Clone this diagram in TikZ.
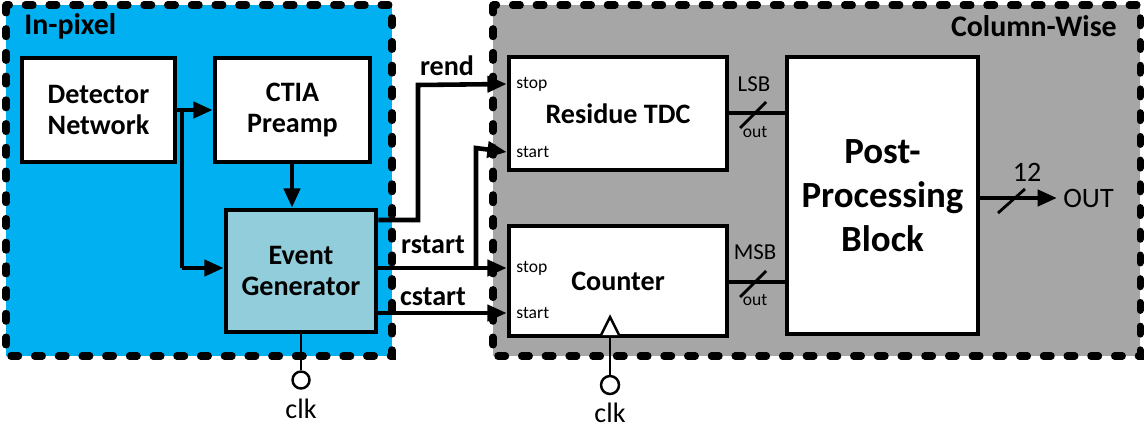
\documentclass[tikz,border=0pt]{standalone}
\usepackage{fontspec}
\setmainfont{Carlito}
\usepackage{xcolor}
\usetikzlibrary{positioning,arrows.meta,calc}
\definecolor{pixblue}{HTML}{00B0F0}
\definecolor{colgray}{HTML}{A6A6A6}
\definecolor{evblue}{HTML}{92CDDC}
\newcommand{\bigfont}{\fontsize{16}{18}\selectfont\bfseries}
\begin{document}
\begin{tikzpicture}[
  x=0.02cm,y=-0.02cm,
  region/.style={line width=4pt,dash pattern=on 4.5pt off 9pt,line cap=round},
  blk/.style={draw,fill=white,line width=2.6pt,align=center,font=\bigfont,
              inner sep=2pt},
  sig/.style={line width=2.6pt,-{Triangle[length=11pt,width=9pt]}},
  bus/.style={line width=2.6pt},
  tick/.style={line width=1.6pt},
  port/.style={font=\fontsize{10}{12}\selectfont,anchor=west,inner sep=0pt},
  small/.style={font=\fontsize{13}{15}\selectfont,inner sep=0pt},
  clkwire/.style={line width=1.4pt}
]
\useasboundingbox (0,0) rectangle (1146,430);

% regions
\draw[region,fill=pixblue] (6,5) rectangle (392,356);
\draw[region,fill=colgray] (493,5) rectangle (1140,356);
\node[font=\fontsize{17}{19}\selectfont\bfseries,anchor=west,inner sep=0pt] (inpix) at (24,26) {In-pixel};
\node[font=\fontsize{17}{19}\selectfont\bfseries,anchor=east,inner sep=0pt] (colw) at (1117,26) {Column-Wise};

% blocks
\node[blk,minimum width=3.06cm,minimum height=2.08cm] (det) at (98.5,110) {Detector\\Network};
\node[blk,minimum width=3.1cm,minimum height=2.08cm] (ctia) at (292.5,110) {CTIA\\Preamp};
\node[blk,fill=evblue,minimum width=3.0cm,minimum height=2.44cm] (evgen) at (301,271) {Event\\Generator};
\node[blk,minimum width=4.36cm,minimum height=2.26cm] (tdc) at (618,113.5) {Residue TDC};
\node[blk,minimum width=4.36cm,minimum height=2.2cm] (cnt) at (618,281) {Counter};
\node[blk,font=\fontsize{21}{25}\selectfont\bfseries,minimum width=3.82cm,minimum height=5.54cm] (post) at (882.5,195.5) {Post-\\Processing\\Block};

% ports
\node[port] (tdcstop) at (516,84) {stop};
\node[port] (tdcstart) at (516,152) {start};
\node[port] (cntstop) at (516,268) {stop};
\node[port] (cntstart) at (516,313) {start};
\coordinate (tdcin1) at (tdc.west |- tdcstop);
\coordinate (tdcin2) at (tdc.west |- tdcstart);
\coordinate (cntin1) at (cnt.west |- cntstop);
\coordinate (cntin2) at (cnt.west |- cntstart);

% in-pixel wiring
\coordinate (split) at (182,110);
\draw[sig] (det.east) -- (ctia.west);
\draw[bus] (split) -- (182,268);
\draw[sig] (182,268) -- (evgen.west |- 0,268);
\draw[sig] (ctia.south -| 292,0) -- (evgen.north -| 292,0);

% signals to column
\coordinate (rendout) at (evgen.east |- 0,220);
\coordinate (rstout) at (evgen.east |- cntin1);
\coordinate (cstout) at (evgen.east |- cntin2);
\draw[sig] (rendout) -- (418,220) -- (418,85) -- (tdcin1);
\draw[sig] (rstout) -- (cntin1);
\draw[sig] (476,268) -- (476,148) -- (tdcin2);
\draw[sig] (cstout) -- (cntin2);
\node[font=\bigfont,inner sep=0pt] (rend) at (447,66) {rend};
\node[font=\bigfont,inner sep=0pt] (rstart) at (433,245) {rstart};
\node[font=\bigfont,inner sep=0pt] (cstart) at (433,297) {cstart};

% buses
\draw[bus] (tdc.east |- 0,113) -- (post.west |- 0,113);
\draw[tick] (740,128) -- (766,102);
\node[small] (lsb) at (754,84) {LSB};
\node[port,anchor=center] (tdcout) at (755,132) {out};
\draw[bus] (cnt.east |- 0,282) -- (post.west |- 0,282);
\draw[tick] (740,297) -- (766,271);
\node[small] (msb) at (755,252) {MSB};
\node[port,anchor=center] (cntout) at (755,300) {out};

\coordinate (outend) at (1057,198);
\draw[sig] (post.east |- outend) -- (outend);
\draw[tick] (998,213) -- (1025,189);
\node[font=\fontsize{16}{18}\selectfont,inner sep=0pt] (nbits) at (1027,172) {12};
\node[font=\fontsize{16}{18}\selectfont,anchor=west,inner sep=0pt] (out) at (1063,198) {OUT};

% clocks
\node[draw,circle,clkwire,fill=white,minimum size=0.34cm,inner sep=0pt] (clka) at (301,380) {};
\draw[clkwire] (evgen.south -| clka) -- (clka.north);
\node[font=\fontsize{16}{18}\selectfont,inner sep=0pt] (clkalab) at (301,409) {clk};
\node[draw,circle,clkwire,fill=white,minimum size=0.36cm,inner sep=0pt] (clkb) at (610,385) {};
\draw[clkwire] (cnt.south -| clkb) -- (clkb.north);
\draw[clkwire,fill=white] (601,335) -- (610,317) -- (619,335);
\node[font=\fontsize{16}{18}\selectfont,inner sep=0pt] (clkblab) at (610,413) {clk};
\end{tikzpicture}
\end{document}
